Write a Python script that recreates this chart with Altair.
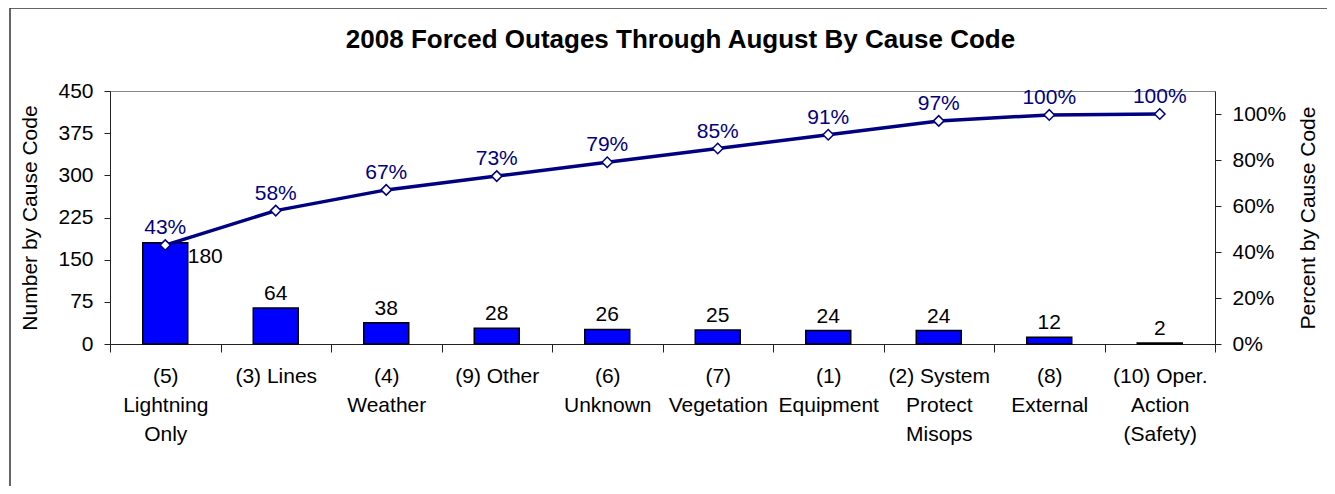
import altair as alt
import pandas as pd

categories = [
    "(5)\nLightning\nOnly", "(3) Lines", "(4)\nWeather", "(9) Other", "(6)\nUnknown",
    "(7)\nVegetation", "(1)\nEquipment", "(2) System\nProtect\nMisops", "(8)\nExternal",
    "(10) Oper.\nAction\n(Safety)",
]
counts = [180, 64, 38, 28, 26, 25, 24, 24, 12, 2]
cum_pct = [0.43, 0.58, 0.67, 0.73, 0.79, 0.85, 0.91, 0.97, 0.996, 1.0]

df = pd.DataFrame({"cat": categories, "count": counts, "pct": cum_pct, "idx": list(range(len(counts)))})

FONT = "Liberation Sans"
NAVY = "#000080"
FS = 21

x = alt.X("cat:N", sort=None, title=None,
          scale=alt.Scale(paddingInner=0, paddingOuter=0),
          axis=alt.Axis(labelAngle=0, labelExpr="split(datum.label, '\\n')",
                        labelLineHeight=29, labelPadding=13, tickBand="extent",
                        tickSize=8, labelFontSize=FS, labelColor="black",
                        domainColor="#222", tickColor="#222", labelBaseline="top"))

yL = alt.Y("count:Q", scale=alt.Scale(domain=[0, 450], nice=False),
           axis=alt.Axis(values=[0, 75, 150, 225, 300, 375, 450], title="Number by Cause Code",
                         grid=False, tickSize=6, labelPadding=11, labelFontSize=FS, titleFontSize=FS,
                         titleFontWeight="normal", labelColor="black", titleColor="black",
                         domainColor="#222", tickColor="#222", titlePadding=17))

yR = alt.Y("pct:Q", scale=alt.Scale(domain=[0, 1.1], nice=False),
           axis=alt.Axis(values=[0, 0.2, 0.4, 0.6, 0.8, 1.0], format=".0%",
                         title="Percent by Cause Code", orient="right", titleAngle=270,
                         titleBaseline="top",
                         grid=False, tickSize=6, labelPadding=11, labelFontSize=FS, titleFontSize=FS,
                         titleFontWeight="normal", labelColor="black", titleColor="black",
                         domainColor="#222", tickColor="#222", titlePadding=12))

base = alt.Chart(df)

bars = base.mark_bar(width=45, color="#0000FF", stroke="black", strokeWidth=1.5).encode(x=x, y=yL)
bar_text = base.transform_filter("datum.idx > 0").mark_text(
    dy=-14, fontSize=FS, font=FONT, color="black").encode(x=x, y=yL, text=alt.Text("count:Q"))
bar_text0 = base.transform_filter("datum.idx == 0").mark_text(
    dx=40, dy=14, fontSize=FS, font=FONT, color="black").encode(x=x, y=yL, text=alt.Text("count:Q"))
left = alt.layer(bars, bar_text, bar_text0)

line = base.mark_line(color=NAVY, strokeWidth=3.5).encode(x=x, y=yR)
pts = base.mark_point(shape="diamond", filled=True, fill="white", stroke=NAVY,
                      strokeWidth=1.5, size=110, opacity=1).encode(x=x, y=yR)
pct_text = base.mark_text(dy=-17, fontSize=FS, font=FONT, color=NAVY).encode(
    x=x, y=yR, text=alt.Text("pct:Q", format=".0%"))
right = alt.layer(line, pts, pct_text)

frame = alt.Chart(pd.DataFrame({"a": [0]})).mark_rect(
    fill=None, stroke="#333", strokeWidth=1.5).encode(
    x=alt.value(-100), x2=alt.value(1400), y=alt.value(-83), y2=alt.value(600))

chart = alt.layer(frame, left, right).resolve_scale(y="independent").properties(
    width=1105, height=253,
    title=alt.TitleParams("2008 Forced Outages Through August By Cause Code",
                          fontSize=26, font=FONT, fontWeight="bold", color="black",
                          offset=-46, dx=18),
    autosize=alt.AutoSizeParams(type="none"),
    padding={"left": 102, "top": 83, "right": 112, "bottom": 142},
).configure(font=FONT).configure_view(stroke="#888", strokeWidth=1).configure_axis(
    labelFont=FONT, titleFont=FONT)

chart.save("out.html", embed_options={"renderer": "svg", "actions": False})
